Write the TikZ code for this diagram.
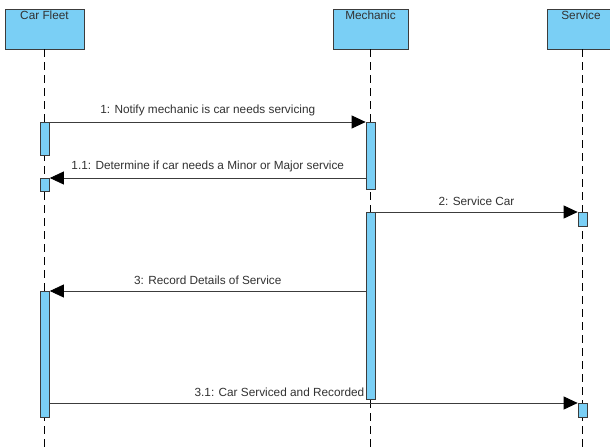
\documentclass[tikz,border=0pt]{standalone}
\usepackage{fontspec}
\setmainfont{Liberation Sans}
\usetikzlibrary{arrows.meta}
\definecolor{actfill}{RGB}{122,207,245}
\definecolor{linegray}{RGB}{60,60,60}
\definecolor{txtgray}{RGB}{50,50,50}
\begin{document}
\begin{tikzpicture}[x=1pt,y=-1pt,
  headbox/.style={draw=linegray, fill=actfill, line width=0.8pt, minimum height=40pt, inner sep=0pt},
  actbox/.style={draw=linegray, fill=actfill, line width=0.7pt, minimum width=9pt, inner sep=0pt},
  lifeline/.style={draw=black, line width=0.7pt, dash pattern=on 8pt off 5pt},
  msg/.style={draw=linegray, line width=0.8pt, -{Triangle[length=14pt,width=13pt,color=black,fill=black]}},
  msglabel/.style={font=\fontsize{11.8}{14}\selectfont, text=txtgray, inner sep=1pt}]
\useasboundingbox (0,0) rectangle (610,447);
\clip (0,0) rectangle (610,447);
\fill[white] (0,0) rectangle (610,447);
% heads
\node[headbox, minimum width=79pt] (cf) at (44.5,29) {};
\node[headbox, minimum width=75pt] (me) at (370.5,29) {};
\node[headbox, minimum width=68pt] (sv) at (581,29) {};
\node[msglabel, anchor=north] at (cf.north) [yshift=-1.5pt] {Car Fleet};
\node[msglabel, anchor=north] at (me.north) [yshift=-1.5pt] {Mechanic};
\node[msglabel, anchor=north] at (sv.north) [yshift=-1.5pt] {Service};
% lifelines
\coordinate (cfend) at (44.5,447);
\coordinate (meend) at (370.5,447);
\coordinate (svend) at (582,447);
\draw[lifeline] (cf.south) -- (cfend);
\draw[lifeline] (me.south) -- (meend);
\draw[lifeline] (582,49) -- (svend);
% activations
\node[actbox, anchor=north, minimum height=33pt] (cfa1) at (45,122) {};
\node[actbox, anchor=north, minimum height=13pt] (cfa2) at (45,178) {};
\node[actbox, anchor=north, minimum height=126pt] (cfa3) at (45,291) {};
\node[actbox, anchor=north, minimum height=67pt] (mea1) at (370.5,122) {};
\node[actbox, anchor=north, minimum height=187pt] (mea2) at (370.5,212) {};
\node[actbox, anchor=north, minimum height=14pt] (sva1) at (582.5,212) {};
\node[actbox, anchor=north, minimum height=14pt] (sva2) at (582.5,403) {};
% message endpoints
\coordinate (m11s) at (mea1.west |- cfa2.north);
\coordinate (m3s) at (mea2.west |- cfa3.north);
% messages
\draw[msg] (cfa1.north east) -- (mea1.north west)
  node[msglabel, midway, above=5pt] {1: Notify mechanic is car needs servicing};
\draw[msg] (m11s) -- (cfa2.north east)
  node[msglabel, midway, above=5pt] {1.1: Determine if car needs a Minor or Major service};
\draw[msg] (mea2.north east) -- (sva1.north west)
  node[msglabel, midway, above=5pt] {2: Service Car};
\draw[msg] (m3s) -- (cfa3.north east)
  node[msglabel, midway, above=5pt] {3: Record Details of Service};
\draw[msg] (cfa3.east |- sva2.north) -- (sva2.north west)
  node[msglabel, pos=0.435, above=5pt] {3.1: Car Serviced and Recorded};
\end{tikzpicture}
\end{document}
